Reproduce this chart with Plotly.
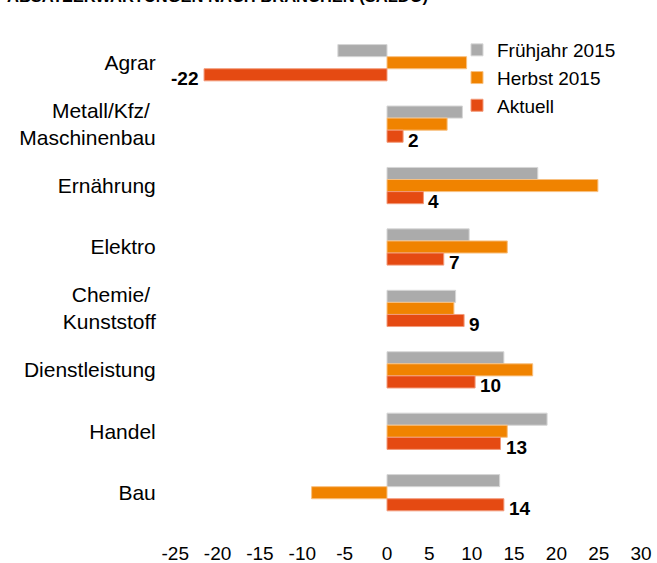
import plotly.graph_objects as go

categories = ["Agrar", "Metall/Kfz/\u00a0<br>Maschinenbau", "Ernährung", "Elektro",
              "Chemie/\u00a0<br>Kunststoff", "Dienstleistung", "Handel", "Bau"]
fruehjahr_2015 = [-5.8, 8.9, 17.8, 9.7, 8.1, 13.8, 18.9, 13.3]
herbst_2015 = [9.4, 7.1, 24.9, 14.2, 7.9, 17.2, 14.2, -8.9]
aktuell = [-21.6, 1.9, 4.3, 6.7, 9.1, 10.4, 13.4, 13.8]
aktuell_labels = ["-22", "2", "4", "7", "9", "10", "13", "14"]
series_names = ["Frühjahr 2015", "Herbst 2015", "Aktuell"]
x_ticks = [-25, -20, -15, -10, -5, 0, 5, 10, 15, 20, 25, 30]
title_text = "ABSATZERWARTUNGEN NACH BRANCHEN (SALDO)"

FONT = "Liberation Sans, Arial, sans-serif"
colors = ["#ABABAB", "#F08300", "#E54A12"]
edge = ["#D6D6D6", "#F8C080", "#F29A7A"]

fig = go.Figure()
for i, (name, vals) in enumerate(zip(series_names, [fruehjahr_2015, herbst_2015, aktuell])):
    fig.add_trace(go.Bar(
        y=categories, x=vals, name=name, orientation="h",
        marker=dict(color=colors[i], line=dict(color=edge[i], width=1)),
        legendgroup=f"g{i}",
        hoverinfo="skip",
    ))

for cat, v, lab in zip(categories, aktuell, aktuell_labels):
    fig.add_annotation(
        x=v, y=cat, xref="x", yref="y", text=f"<b>{lab}</b>", showarrow=False,
        xanchor="left" if v >= 0 else "right",
        xshift=3 if v >= 0 else -4, yshift=-16,
        font=dict(family=FONT, size=19, color="#000000"),
    )

W, H = 657, 563
ml, mr, mt, mb = 170, 7, 32, 23
pw, ph = W - ml - mr, H - mt - mb
fig.add_annotation(
    x=(5 - ml) / pw, xref="paper", y=1 + (mt - 7) / ph, yref="paper",
    text=f"<b>{title_text}</b>",
    showarrow=False, xanchor="left", yanchor="bottom",
    font=dict(family=FONT, size=16.5, color="#000000"),
)

fig.update_layout(
    width=W, height=H,
    margin=dict(l=ml, r=mr, t=mt, b=mb, autoexpand=False),
    paper_bgcolor="white", plot_bgcolor="white",
    barmode="group", bargap=0.41, bargroupgap=0,
    font=dict(family=FONT, size=19, color="#000000"),
    showlegend=True,
    legend=dict(
        x=(457 - ml) / pw, xanchor="left",
        y=1 - (31 - mt) / ph, yanchor="top",
        traceorder="normal", tracegroupgap=9,
        font=dict(family=FONT, size=19, color="#000000"),
        bgcolor="rgba(0,0,0,0)",
    ),
    xaxis=dict(
        range=[-25.62, 31.05], tickvals=x_ticks, ticktext=[str(t) for t in x_ticks],
        showgrid=False, zeroline=False, showline=False, automargin=False,
        tickfont=dict(family=FONT, size=19, color="#000000"),
    ),
    yaxis=dict(
        range=[7.77, -0.5], type="category", showgrid=False, zeroline=False,
        showline=False, automargin=False, ticks="outside", ticklen=9,
        tickcolor="rgba(0,0,0,0)",
        tickfont=dict(family=FONT, size=21, color="#000000"),
    ),
)

fig.write_html(
    "out.html",
    config={"displayModeBar": False},
    post_script="document.body.style.margin='0';document.body.style.overflow='hidden';",
)
